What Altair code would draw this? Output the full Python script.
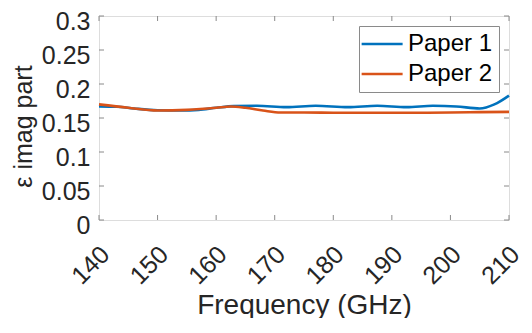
import altair as alt
import pandas as pd

# ---- data ----
series_names = ["Paper 1", "Paper 2"]
series_colors = ["#0072BD", "#D95319"]

freq_p1 = [140, 143, 146, 150, 154, 157, 160, 163, 167, 172, 177, 182.5, 187.5, 192.5, 197, 201, 205, 207.5, 210]
eps_p1 = [0.167, 0.1665, 0.164, 0.1615, 0.161, 0.162, 0.165, 0.1675, 0.168, 0.166, 0.168, 0.166, 0.168, 0.166,
          0.168, 0.167, 0.164, 0.170, 0.183]

freq_p2 = [140, 145, 150, 155, 160, 162.5, 165, 168, 171, 175, 180, 185, 190, 195, 200, 205, 210]
eps_p2 = [0.170, 0.165, 0.161, 0.162, 0.165, 0.167, 0.165, 0.161, 0.158, 0.158, 0.1578, 0.1577, 0.1577, 0.1578,
          0.158, 0.1586, 0.159]

x_ticks = [140, 150, 160, 170, 180, 190, 200, 210]
y_ticks = [0, 0.05, 0.1, 0.15, 0.2, 0.25, 0.3]

x_title = "Frequency (GHz)"
y_title = "ε imag part"

df = pd.concat([
    pd.DataFrame({"freq": freq_p1, "eps": eps_p1, "series": series_names[0]}),
    pd.DataFrame({"freq": freq_p2, "eps": eps_p2, "series": series_names[1]}),
])
xt_df = pd.DataFrame({"t": x_ticks})
yt_df = pd.DataFrame({"v": y_ticks})

W, H = 410, 204
FONT = "Liberation Sans"
TXT = "#262626"
FRAME = "#8a8a8a"
TICK = 5

xs = alt.Scale(domain=[140, 210], nice=False, zero=False)
ys = alt.Scale(domain=[0, 0.3], nice=False)

main = alt.Chart(df).mark_line(strokeWidth=2.6, interpolate="monotone").encode(
    x=alt.X("freq:Q", scale=xs, axis=alt.Axis(
        orient="bottom", values=x_ticks, ticks=False, domain=False, grid=False,
        labelAngle=-45, labelAlign="right", labelBaseline="middle",
        labelFontSize=25, labelFont=FONT, labelColor=TXT,
        labelPadding=30, labelOffset=6, labelOverlap=False, labelFlush=False,
        title=x_title, titleFont=FONT, titleFontSize=28, titleFontWeight="normal", titleColor=TXT,
        titleX=W / 2, titleY=93, titleBaseline="alphabetic", titleAlign="center")),
    y=alt.Y("eps:Q", scale=ys, axis=alt.Axis(
        orient="left", values=y_ticks, format="~g", ticks=False, domain=False, grid=False,
        labelFontSize=25, labelFont=FONT, labelColor=TXT, labelPadding=9, labelOffset=5,
        labelOverlap=False, labelFlush=False,
        title=y_title, titleFont=FONT, titleFontSize=25, titleFontWeight="normal", titleColor=TXT,
        titleAngle=-90, titleX=-68, titleY=110, titleBaseline="alphabetic", titleAlign="center")),
    color=alt.Color("series:N", scale=alt.Scale(domain=series_names, range=series_colors),
                    legend=alt.Legend(
                        title=None, orient="none", legendX=260, legendY=10,
                        strokeColor=FRAME, fillColor="white", padding=6,
                        symbolType="M-3,0H5", symbolSize=105, symbolStrokeWidth=2.6,
                        labelFont=FONT, labelFontSize=24, labelColor="black", labelOffset=19,
                        rowPadding=6)),
)

xt = alt.Chart(xt_df).encode(x=alt.X("t:Q", scale=xs, axis=None))
yt = alt.Chart(yt_df).encode(y=alt.Y("v:Q", scale=ys, axis=None))
tick_bottom = xt.mark_rule(color=FRAME, strokeWidth=1).encode(y=alt.value(H), y2=alt.value(H - TICK))
tick_top = xt.mark_rule(color=FRAME, strokeWidth=1).encode(y=alt.value(0), y2=alt.value(TICK))
tick_left = yt.mark_rule(color=FRAME, strokeWidth=1).encode(x=alt.value(0), x2=alt.value(TICK))
tick_right = yt.mark_rule(color=FRAME, strokeWidth=1).encode(x=alt.value(W), x2=alt.value(W - TICK))

chart = alt.layer(main, tick_bottom, tick_top, tick_left, tick_right).resolve_axis(
    x="independent", y="independent"
).properties(
    width=W, height=H,
    autosize=alt.AutoSizeParams(type="none"),
    padding={"left": 91, "top": 8, "right": 15, "bottom": 98},
).configure_view(stroke=FRAME, strokeWidth=1).configure(background="white")

chart.save("out.html", embed_options={"renderer": "svg", "actions": False})
